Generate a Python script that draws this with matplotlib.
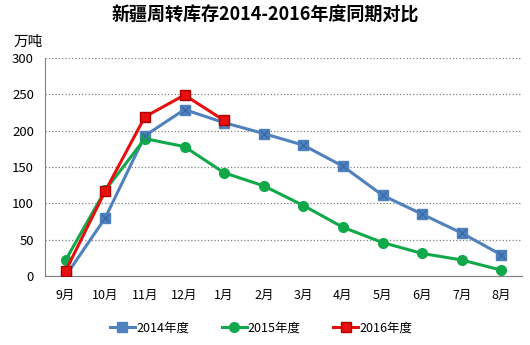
import numpy as np
import matplotlib
matplotlib.use('Agg')
import matplotlib.pyplot as plt

plt.rcParams['font.family'] = ['Noto Sans CJK SC', 'DejaVu Sans']

months = ['9月', '10月', '11月', '12月', '1月', '2月', '3月', '4月', '5月', '6月', '7月', '8月']
y2014 = [0, 80, 193, 229, 211, 196, 180, 151, 111, 85, 59, 29]
y2015 = [22, 118, 189, 178, 142, 124, 97, 67, 46, 31, 22, 8]
y2016 = [7, 117, 219, 249, 214]

fig = plt.figure(figsize=(5.3, 3.45), dpi=100)
ax = fig.add_axes([0.085, 0.2, 0.9, 0.632])

x = np.arange(len(months))
ax.plot(x, y2014, color='#4F81BD', lw=2.2, marker='s', ms=7, mfc='#4F81BD', mec='#4F81BD', label='2014年度', zorder=3)
ax.plot(x, y2014, ls='none', marker='x', ms=6, mec='#3A6BA8', mew=1, zorder=4)
ax.plot(x, y2015, color='#11A84A', lw=2.2, marker='o', ms=7, mfc='#11A84A', mec='#11A84A', label='2015年度', zorder=3)
ax.plot(x[:len(y2016)], y2016, color='#E8100F', lw=2.2, marker='s', ms=7, mfc='#E8100F', mec='#B00000', label='2016年度', zorder=5)

ax.set_xlim(-0.52, 11.52)
ax.set_ylim(0, 300)
ax.set_yticks(range(0, 301, 50))
ax.set_xticks(x)
ax.set_xticklabels(months, fontsize=9)
ax.tick_params(axis='y', labelsize=9.5, length=0, pad=8)
ax.tick_params(axis='x', length=0, pad=9)
ax.grid(axis='y', ls=':', color='#808080', lw=0.9)
for s in ['top', 'right']:
    ax.spines[s].set_visible(False)
ax.spines['left'].set_color('#808080')
ax.spines['bottom'].set_color('#808080')

fig.text(0.5, 0.955, '新疆周转库存2014-2016年度同期对比', ha='center', va='center',
         fontsize=13, fontweight='bold')
fig.text(0.026, 0.88, '万吨', ha='left', va='center', fontsize=10.5)

ax.legend(loc='center', bbox_to_anchor=(0.453, -0.24), ncol=3, frameon=False,
          fontsize=9, handlelength=2.0, columnspacing=2.6, handletextpad=0.1)

fig.savefig('out.png', dpi=100)
